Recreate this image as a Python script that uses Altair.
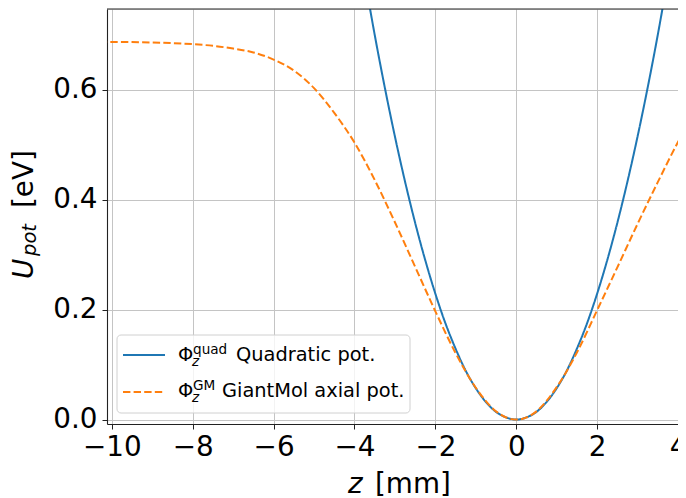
import altair as alt
import pandas as pd

# ---- data ----
quad_z = [-3.75, -3.5, -3.25, -3.0, -2.75, -2.5, -2.25, -2.0, -1.75, -1.5, -1.25, -1.0,
          -0.75, -0.5, -0.25, 0.0, 0.25, 0.5, 0.75, 1.0, 1.25, 1.5, 1.75, 2.0, 2.25,
          2.5, 2.75, 3.0, 3.25, 3.5, 3.75]
quad_u = [0.804, 0.700, 0.604, 0.515, 0.433, 0.358, 0.290, 0.229, 0.175, 0.129, 0.089, 0.057,
          0.032, 0.014, 0.004, 0.0, 0.004, 0.014, 0.032, 0.057, 0.089, 0.129, 0.175, 0.229, 0.290,
          0.358, 0.433, 0.515, 0.604, 0.700, 0.804]

gm_z = [-10.3, -10.0, -9.0, -8.0, -7.5, -7.0, -6.5, -6.0, -5.5, -5.0, -4.5, -4.0, -3.5, -3.0,
        -2.5, -2.0, -1.5, -1.0, -0.5, 0.0, 0.5, 1.0, 1.5, 2.0, 2.5, 3.0, 3.5, 4.0, 4.3]
gm_u = [0.687, 0.687, 0.686, 0.683, 0.680, 0.675, 0.668, 0.655, 0.635, 0.603, 0.558, 0.504, 0.436, 0.359,
        0.278, 0.197, 0.121, 0.058, 0.015, 0.0, 0.015, 0.059, 0.122, 0.199, 0.277, 0.356, 0.432, 0.505, 0.545]

series_names = ["quad", "gm"]
series_colors = ["#1f77b4", "#ff7f0e"]
series_dash = [[1, 0], [7.4, 3.2]]

x_ticks = [-10, -8, -6, -4, -2, 0, 2, 4]
y_ticks = [0.0, 0.2, 0.4, 0.6]

X_DOMAIN = [-10.12, 4.0]
Y_DOMAIN = [-0.008, 0.747]
W, H = 571, 415
FONT = "DejaVu Sans"

df = pd.concat([
    pd.DataFrame({"z": quad_z, "u": quad_u, "s": "quad", "o": range(len(quad_z))}),
    pd.DataFrame({"z": gm_z, "u": gm_u, "s": "gm", "o": range(len(gm_z))}),
])

xs = alt.Scale(domain=X_DOMAIN, nice=False, zero=False)
ys = alt.Scale(domain=Y_DOMAIN, nice=False, zero=False)

base = alt.Chart(df)

lines = base.mark_line(strokeWidth=2, clip=True, interpolate="monotone").encode(
    x=alt.X("z:Q", scale=xs, axis=alt.Axis(
        values=x_ticks, title=None, format="d", labelFontSize=27.8, labelFont=FONT,
        labelColor="black", tickSize=5, tickColor="#222", labelPadding=4,
        domainColor="#222", domainWidth=1.1, grid=True, gridColor="#c4c4c4", gridWidth=1,
        labelFlush=False, labelOverlap=False)),
    y=alt.Y("u:Q", scale=ys, axis=alt.Axis(
        values=y_ticks, title=None, format=".1f", labelFontSize=27.8, labelFont=FONT,
        labelColor="black", tickSize=5, tickColor="#222", labelPadding=5,
        domainColor="#222", domainWidth=1.1, grid=True, gridColor="#c4c4c4", gridWidth=1,
        labelFlush=False, labelOverlap=False)),
    color=alt.Color("s:N", scale=alt.Scale(domain=series_names, range=series_colors), legend=None),
    strokeDash=alt.StrokeDash("s:N", scale=alt.Scale(domain=series_names, range=series_dash), legend=None),
    order="o:Q",
    detail="s:N",
)

one = pd.DataFrame({"a": [0]})

top_spine = alt.Chart(one).mark_rule(color="#222", strokeWidth=1.1).encode(
    x=alt.value(0), x2=alt.value(W), y=alt.value(0))


def txt(text, x, y, size, italic=False, angle=0):
    kw = dict(font=FONT, fontSize=size, color="black", align="left", baseline="alphabetic")
    if italic:
        kw["fontStyle"] = "italic"
    if angle:
        kw["angle"] = angle
    return alt.Chart(pd.DataFrame({"t": [text]})).mark_text(**kw).encode(
        text="t:N", x=alt.value(x), y=alt.value(y))


# axis titles
x_title = [txt("z", 241, 484, 27.8, italic=True), txt("[mm]", 268, 484, 27.8)]
y_title = [txt("U", -74, 270, 27.8, italic=True, angle=270),
           txt("pot", -71, 247, 19.5, italic=True, angle=270),
           txt("[eV]", -74, 199, 27.8, angle=270)]

# legend
legend_box = alt.Chart(one).mark_rect(fill="white", fillOpacity=0.8, stroke="#d0d0d0",
                                      strokeWidth=1, cornerRadius=4).encode(
    x=alt.value(10), x2=alt.value(303), y=alt.value(326), y2=alt.value(404))

leg_blue = alt.Chart(one).mark_rule(color=series_colors[0], strokeWidth=2).encode(
    x=alt.value(16), x2=alt.value(58), y=alt.value(346))
leg_orange = alt.Chart(one).mark_rule(color=series_colors[1], strokeWidth=2,
                                      strokeDash=series_dash[1]).encode(
    x=alt.value(16), x2=alt.value(58), y=alt.value(383))

LF, SF = 19.4, 13.6
leg_text = [
    txt("Φ", 71, 352, LF), txt("z", 85, 357, SF, italic=True), txt("quad", 86, 345, SF),
    txt("Quadratic pot.", 129, 352, LF),
    txt("Φ", 71, 388, LF), txt("z", 85, 393, SF, italic=True), txt("GM", 86, 381, SF),
    txt("GiantMol axial pot.", 115, 388, LF),
]

chart = alt.layer(
    lines, top_spine, legend_box, leg_blue, leg_orange, *leg_text, *x_title, *y_title
).properties(
    width=W, height=H,
    autosize=alt.AutoSizeParams(type="none"),
    padding={"left": 99, "top": 1, "right": 0, "bottom": 74},
).configure_view(stroke=None).configure(background="white")

chart.save("out.html", embed_options={"renderer": "svg", "actions": False})
